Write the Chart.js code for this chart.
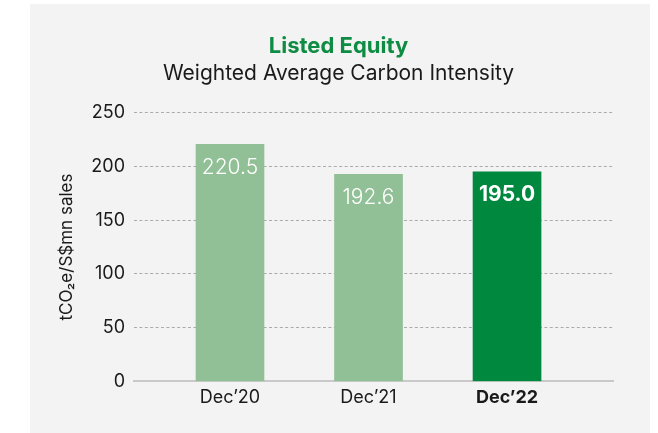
<!DOCTYPE html>
<html>
<head>
<meta charset="utf-8">
<script src="https://cdn.jsdelivr.net/npm/chart.js@4/dist/chart.umd.min.js"></script>
<style>
  html, body { margin: 0; padding: 0; background: #fff; }
  #panel { position: absolute; left: 30px; top: 4px; width: 620px; height: 429px; background: #f3f3f3; }
</style>
</head>
<body>
<div id="panel"><canvas id="carbonChart" width="620" height="429"></canvas></div>
<script>
const categories = ["Dec\u201920", "Dec\u201921", "Dec\u201922"];
const values = [220.5, 192.6, 195.0];
const highlight = [false, false, true];
const yMax = 250;
const yStep = 50;

const FONT = 'Inter, "Liberation Sans", Arial, sans-serif';
const lightGreen = '#91bf96';
const darkGreen = '#00883f';

// white value labels inside the top of each bar
const valueLabels = {
  id: 'valueLabels',
  afterDatasetsDraw(chart) {
    const ctx = chart.ctx;
    const meta = chart.getDatasetMeta(0);
    ctx.save();
    ctx.fillStyle = '#ffffff';
    ctx.textAlign = 'center';
    ctx.textBaseline = 'middle';
    meta.data.forEach((bar, i) => {
      ctx.font = (highlight[i] ? 'bold ' : '300 ') + '21px ' + FONT;
      ctx.fillText(values[i].toFixed(1), bar.x, bar.y + 23);
    });
    ctx.restore();
  }
};

new Chart(document.getElementById('carbonChart'), {
  type: 'bar',
  data: {
    datasets: [{
      data: values.map((v, i) => ({ x: i, y: v })),
      backgroundColor: highlight.map(h => h ? darkGreen : lightGreen),
      barThickness: 68,
      borderWidth: 0
    }]
  },
  options: {
    responsive: false,
    animation: false,
    layout: { padding: { left: 34, right: 37, top: 0, bottom: 20 } },
    plugins: {
      legend: { display: false },
      tooltip: { enabled: false },
      title: {
        display: true,
        text: 'Listed Equity',
        color: '#0e8c43',
        font: { family: FONT, size: 22, weight: 'bold' },
        padding: { top: 29, bottom: 0 }
      },
      subtitle: {
        display: true,
        text: 'Weighted Average Carbon Intensity',
        color: '#1a1a1a',
        font: { family: FONT, size: 21, weight: 'normal' },
        padding: { top: 2, bottom: 26 }
      }
    },
    scales: {
      x: {
        type: 'linear',
        offset: false,
        min: -0.693,
        max: 2.765,
        afterBuildTicks: axis => { axis.ticks = categories.map((c, i) => ({ value: i })); },
        grid: { display: false, drawTicks: false, offset: false },
        border: { display: true, color: '#c9c9c9', width: 2 },
        ticks: {
          callback: (v) => categories[v],
          color: '#1a1a1a',
          padding: 5,
          font: ctx => ({ family: FONT, size: 18, weight: highlight[ctx.index] ? 'bold' : 'normal' })
        }
      },
      y: {
        min: 0,
        max: yMax,
        afterFit: axis => { axis.width = 70; },
        ticks: { stepSize: yStep, color: '#1a1a1a', padding: 9, font: { family: FONT, size: 18 } },
        grid: { color: '#ababab', lineWidth: 1, drawTicks: false },
        border: { display: false, dash: [3, 2.4] },
        title: {
          display: true,
          text: 'tCO\u2082e/S$mn sales',
          color: '#1a1a1a',
          font: { family: FONT, size: 17 },
          padding: { top: -7, bottom: 0 }
        }
      }
    }
  },
  plugins: [valueLabels]
});
</script>
</body>
</html>
